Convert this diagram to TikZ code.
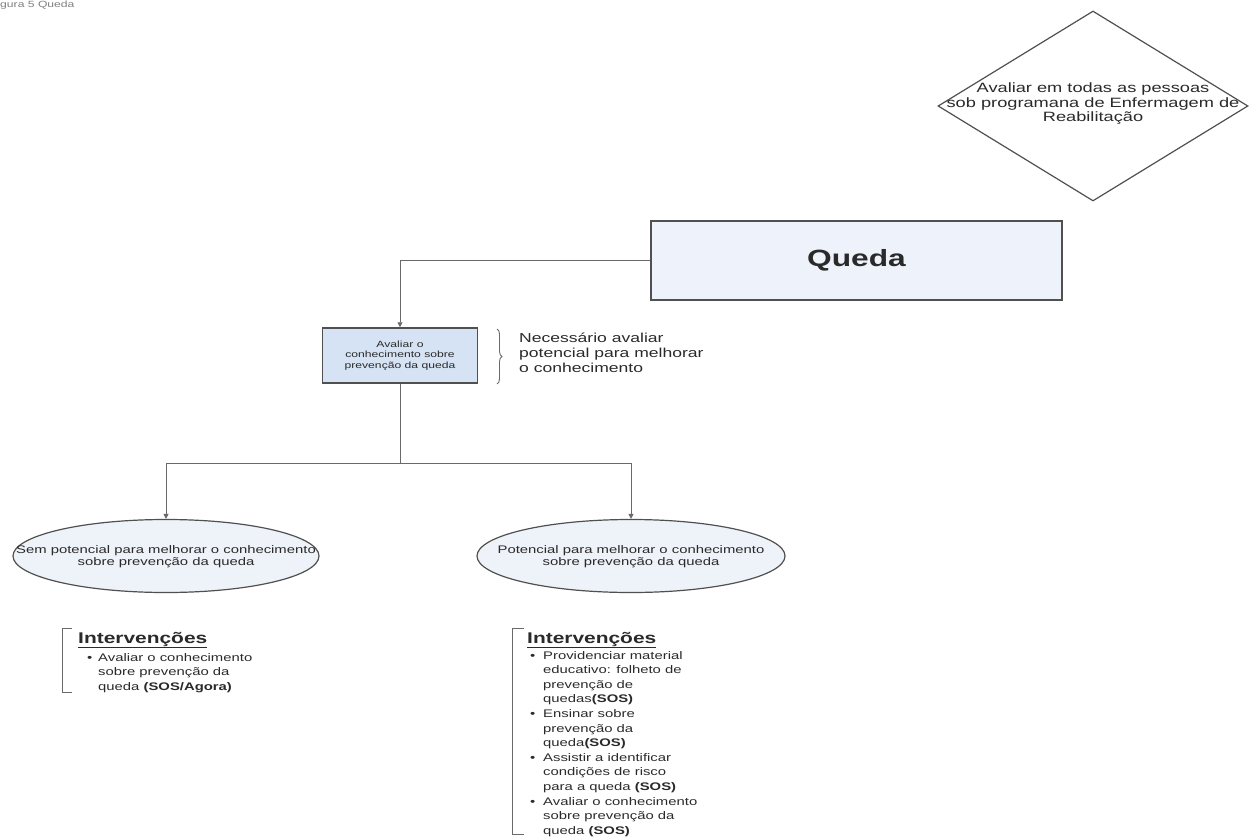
\documentclass[tikz,border=0pt]{standalone}
\usepackage{fontspec}
\setmainfont[FakeStretch=1.35]{Liberation Sans}
\usetikzlibrary{shapes.geometric,decorations.pathreplacing,arrows.meta}
\definecolor{linegray}{HTML}{6A6A6A}
\definecolor{darkline}{HTML}{505050}
\definecolor{boxfill}{HTML}{EEF3FB}
\definecolor{smallfill}{HTML}{D6E3F4}
\definecolor{ellfill}{HTML}{EEF2F9}
\definecolor{txtgray}{HTML}{2A2A2A}
\newcommand{\bl}[1]{\makebox[#1][l]{•}}
\begin{document}
\begin{tikzpicture}[x=1pt,y=-1pt,
  conn/.style={draw=linegray, line width=0.9pt},
  arr/.style={conn, -{Triangle[length=5pt,width=5pt]}},
  shapeline/.style={draw=darkline, line width=1.2pt},
  lbl/.style={inner sep=0pt, text=txtgray}]
\useasboundingbox (0,0) rectangle (1249,837);

\node[lbl, anchor=north west, text=gray, font=\fontsize{9}{10}\selectfont] (title) at (0,1) {gura 5 Queda};

\node[diamond, shapeline, fill=white, minimum width=310, minimum height=190, inner sep=0pt] (aval) at (1093,106) {};
\node[lbl, align=center, font=\fontsize{13.5}{14.5}\selectfont] (avaltxt) at (1093,104)
  {Avaliar em todas as pessoas\\sob programana de Enfermagem de\\Reabilitação};

\node[rectangle, draw=darkline, line width=1.8pt, fill=boxfill, minimum width=411, minimum height=79, inner sep=0pt,
  text=txtgray, font=\fontsize{23.5}{26}\selectfont\bfseries] (queda) at (856.5,260.5) {Queda};

\node[rectangle, draw=darkline, line width=1.5pt, fill=smallfill, minimum width=155, minimum height=55, inner sep=0pt,
  align=center, text=txtgray, font=\fontsize{9}{10.5}\selectfont] (conh) at (400,355.5)
  {Avaliar o\\conhecimento sobre\\prevenção da queda};

\draw[conn, decorate, decoration={brace, amplitude=5pt}] (497,329) -- (497,384);
\node[lbl, anchor=north west, align=left, font=\fontsize{13}{15}\selectfont] (nec) at (519,333)
  {Necessário avaliar\\potencial para melhorar\\o conhecimento};

\node[ellipse, shapeline, fill=ellfill, minimum width=306, minimum height=73, inner sep=0pt] (sem) at (166,556) {};
\node[lbl, align=center, font=\fontsize{11}{12}\selectfont] (semtxt) at (166,557)
  {Sem potencial para melhorar o conhecimento\\sobre prevenção da queda};

\node[ellipse, shapeline, fill=ellfill, minimum width=308, minimum height=73, inner sep=0pt] (pot) at (631,556) {};
\node[lbl, align=center, font=\fontsize{11}{12}\selectfont] (pottxt) at (631,557)
  {Potencial para melhorar o conhecimento\\sobre prevenção da queda};

\coordinate (branch) at (400,463);
\draw[arr] (queda.west) -| (conh.north);
\draw[conn] (conh.south) -- (branch);
\draw[arr] (branch) -| (sem.north);
\draw[arr] (branch) -| (pot.north);

% left interventions
\draw[conn, line width=0.8pt] (72,628) -- (62,628) -- (62,692) -- (72,692);
\node[lbl, anchor=base west, font=\fontsize{15.5}{17}\selectfont\bfseries] (hdl) at (78,643)
  {\underline{Intervenções}};
\node[lbl, anchor=north west, align=left, font=\fontsize{11}{14.8}\selectfont] (listl) at (87,653)
  {\bl{11pt}Avaliar o conhecimento\\
   \hspace*{11pt}sobre prevenção da\\
   \hspace*{11pt}queda \textbf{(SOS/Agora)}};

% right interventions
\draw[conn, line width=0.8pt] (524,628) -- (512,628) -- (512,834) -- (524,834);
\node[lbl, anchor=base west, font=\fontsize{15.5}{17}\selectfont\bfseries] (hdr) at (527,643)
  {\underline{Intervenções}};
\node[lbl, anchor=north west, align=left, font=\fontsize{11}{14.6}\selectfont] (listr) at (530,651)
  {\bl{13pt}Providenciar material\\
   \hspace*{13pt}educativo: folheto de\\
   \hspace*{13pt}prevenção de\\
   \hspace*{13pt}quedas\textbf{(SOS)}\\
   \bl{13pt}Ensinar sobre\\
   \hspace*{13pt}prevenção da\\
   \hspace*{13pt}queda\textbf{(SOS)}\\
   \bl{13pt}Assistir a identificar\\
   \hspace*{13pt}condições de risco\\
   \hspace*{13pt}para a queda \textbf{(SOS)}\\
   \bl{13pt}Avaliar o conhecimento\\
   \hspace*{13pt}sobre prevenção da\\
   \hspace*{13pt}queda \textbf{(SOS)}};
\end{tikzpicture}
\end{document}
